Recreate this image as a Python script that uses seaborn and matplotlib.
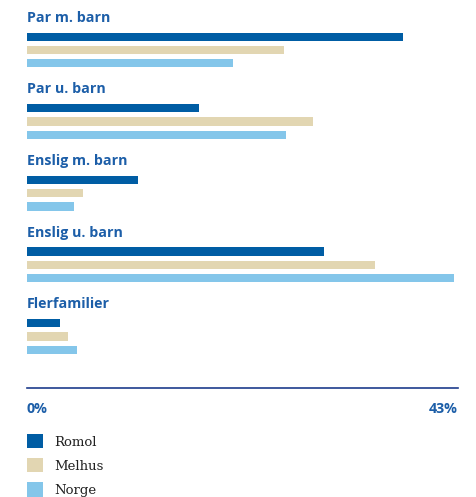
import matplotlib
matplotlib.use("Agg")
import matplotlib.pyplot as plt
import seaborn as sns
import pandas as pd
from matplotlib import font_manager as fm

categories = ["Par m. barn", "Par u. barn", "Enslig m. barn", "Enslig u. barn", "Flerfamilier"]
regions = ["Romol", "Melhus", "Norge"]
romol = [37.5, 17.2, 11.1, 29.6, 3.3]
melhus = [25.6, 28.5, 5.6, 34.7, 4.1]
norge = [20.6, 25.8, 4.7, 42.6, 5.0]
x_ticks = [0, 43]
x_ticklabels = ["0%", "43%"]

colors = ["#005DA4", "#E2D6B2", "#84C6EA"]
label_blue = "#1C5EA8"

rows = []
for series, name in zip([romol, melhus, norge], regions):
    for cat, v in zip(categories, series):
        rows.append({"category": cat, "region": name, "value": v})
df = pd.DataFrame(rows)

sns.set_theme(style="white")

# pick a sans family that has a real bold face
bold_family = "DejaVu Sans"
for fam in ["Open Sans", "Noto Sans", "Lato", "Roboto"]:
    try:
        p = fm.findfont(fm.FontProperties(family=fam, weight="bold"), fallback_to_default=False)
        if "bold" in p.lower():
            bold_family = fam
            break
    except Exception:
        pass
plt.rcParams["font.family"] = [bold_family, "DejaVu Sans"]

W, H = 477, 497
fig = plt.figure(figsize=(W / 100, H / 100), dpi=100)
ax_top_px, ax_bot_px = 3, 388
ax = fig.add_axes([27 / W, 1 - ax_bot_px / H, 431 / W, (ax_bot_px - ax_top_px) / H])

sns.barplot(data=df, x="value", y="category", hue="region", order=categories,
            hue_order=regions, palette=colors, orient="h", width=0.555, gap=0.38,
            ax=ax, saturation=1, linewidth=0)

unit = 71.6
c0 = 50
ax.set_ylim((ax_bot_px - c0) / unit, (ax_top_px - c0) / unit)
ax.set_xlim(0, 43)

for i, cat in enumerate(categories):
    ax.text(0, i - 0.45, cat, ha="left", va="center", fontsize=10.3,
            fontweight="bold", color=label_blue)

ax.set_yticks([])
ax.set_xlabel("")
ax.set_ylabel("")
ax.set_xticks(x_ticks)
ax.set_xticklabels(x_ticklabels, fontsize=10.3, fontweight="bold", color=label_blue)
labs = ax.get_xticklabels()
labs[0].set_ha("left")
labs[-1].set_ha("right")
ax.tick_params(axis="x", length=0, pad=10)
for s in ["top", "right", "left"]:
    ax.spines[s].set_visible(False)
ax.spines["bottom"].set_color("#1E3C8C")
ax.spines["bottom"].set_linewidth(1.2)

handles, labels = ax.get_legend_handles_labels()
ax.get_legend().remove()
fig.legend(handles, labels, loc="upper left", bbox_to_anchor=(27 / W, 1 - 434 / H),
           frameon=False, borderpad=0, borderaxespad=0, handlelength=1.25,
           handleheight=1.3, handletextpad=0.8, labelspacing=0.72,
           prop={"family": "DejaVu Serif", "size": 9.5}, labelcolor="#222222")

fig.savefig("out.png", dpi=100)
